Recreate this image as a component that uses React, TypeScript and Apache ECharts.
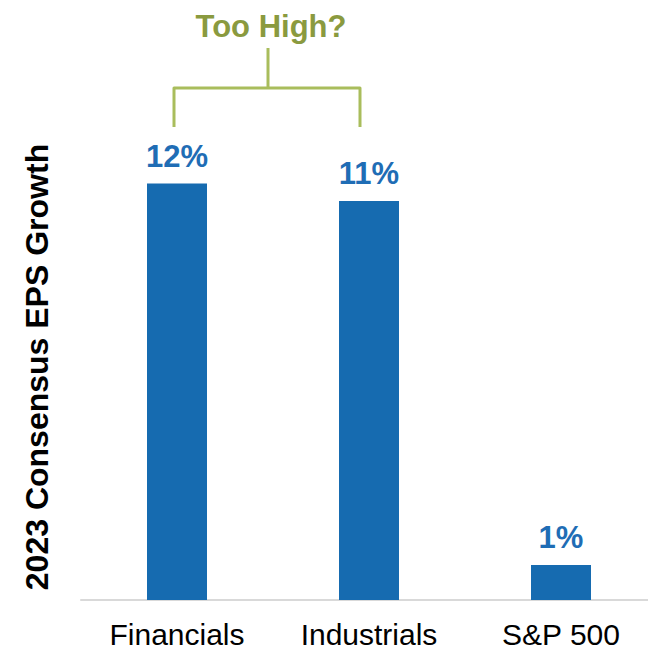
import React, { useEffect, useRef } from "react";
import * as echarts from "echarts";

const categories = ["Financials", "Industrials", "S&P 500"];
const values = [11.9, 11.4, 1.0];
const valueLabels = ["12%", "11%", "1%"];
const yAxisTitle = "2023 Consensus EPS Growth";
const annotation = "Too High?";

export default function App() {
  const ref = useRef<HTMLDivElement>(null);
  useEffect(() => {
    if (!ref.current) return;
    const chart = echarts.init(ref.current, null, { renderer: "svg" });
    const font = "'Liberation Sans', Arial, sans-serif";
    const green = "#a9bd5c";
    chart.setOption({
      animation: false,
      grid: { left: 81, top: 110, height: 490, width: 576, outerBoundsMode: "none" },
      xAxis: {
        type: "category",
        data: categories,
        axisLine: { lineStyle: { color: "#d9d9d9", width: 2 } },
        axisTick: { show: false },
        axisLabel: { color: "#000", fontSize: 30, fontFamily: font, margin: 19 },
      },
      yAxis: {
        type: "value",
        min: 0,
        max: 14,
        show: false,
        splitLine: { show: false },
      },
      series: [
        {
          type: "bar",
          data: values,
          barWidth: 60,
          itemStyle: { color: "#166bb0" },
          label: {
            show: true,
            position: "top",
            distance: 12,
            formatter: (p: any) => valueLabels[p.dataIndex],
            color: "#1f6db5",
            fontSize: 31,
            fontWeight: "bold",
            fontFamily: font,
          },
        },
      ],
      graphic: [
        {
          type: "text",
          x: 37,
          y: 367,
          rotation: Math.PI / 2,
          style: {
            text: yAxisTitle,
            fontSize: 32,
            fontWeight: "bold",
            fontFamily: font,
            fill: "#000",
            align: "center",
            verticalAlign: "middle",
          },
        },
        {
          type: "text",
          x: 271,
          y: 26,
          style: {
            text: annotation,
            fontSize: 31,
            fontWeight: "bold",
            fontFamily: font,
            fill: "#8a9a3f",
            align: "center",
            verticalAlign: "middle",
          },
        },
        {
          type: "polyline",
          shape: { points: [[268, 48], [268, 88]] },
          style: { stroke: green, lineWidth: 3, fill: "none" },
        },
        {
          type: "polyline",
          shape: { points: [[174, 127], [174, 88], [360, 88], [360, 127]] },
          style: { stroke: green, lineWidth: 3, fill: "none", lineJoin: "round" },
        },
      ],
    });
    return () => chart.dispose();
  }, []);
  return (
    <div style={{ width: 648, height: 652, position: "absolute", left: 0, top: 0, overflow: "hidden" }}>
      <div ref={ref} style={{ width: 680, height: 652 }} />
    </div>
  );
}
